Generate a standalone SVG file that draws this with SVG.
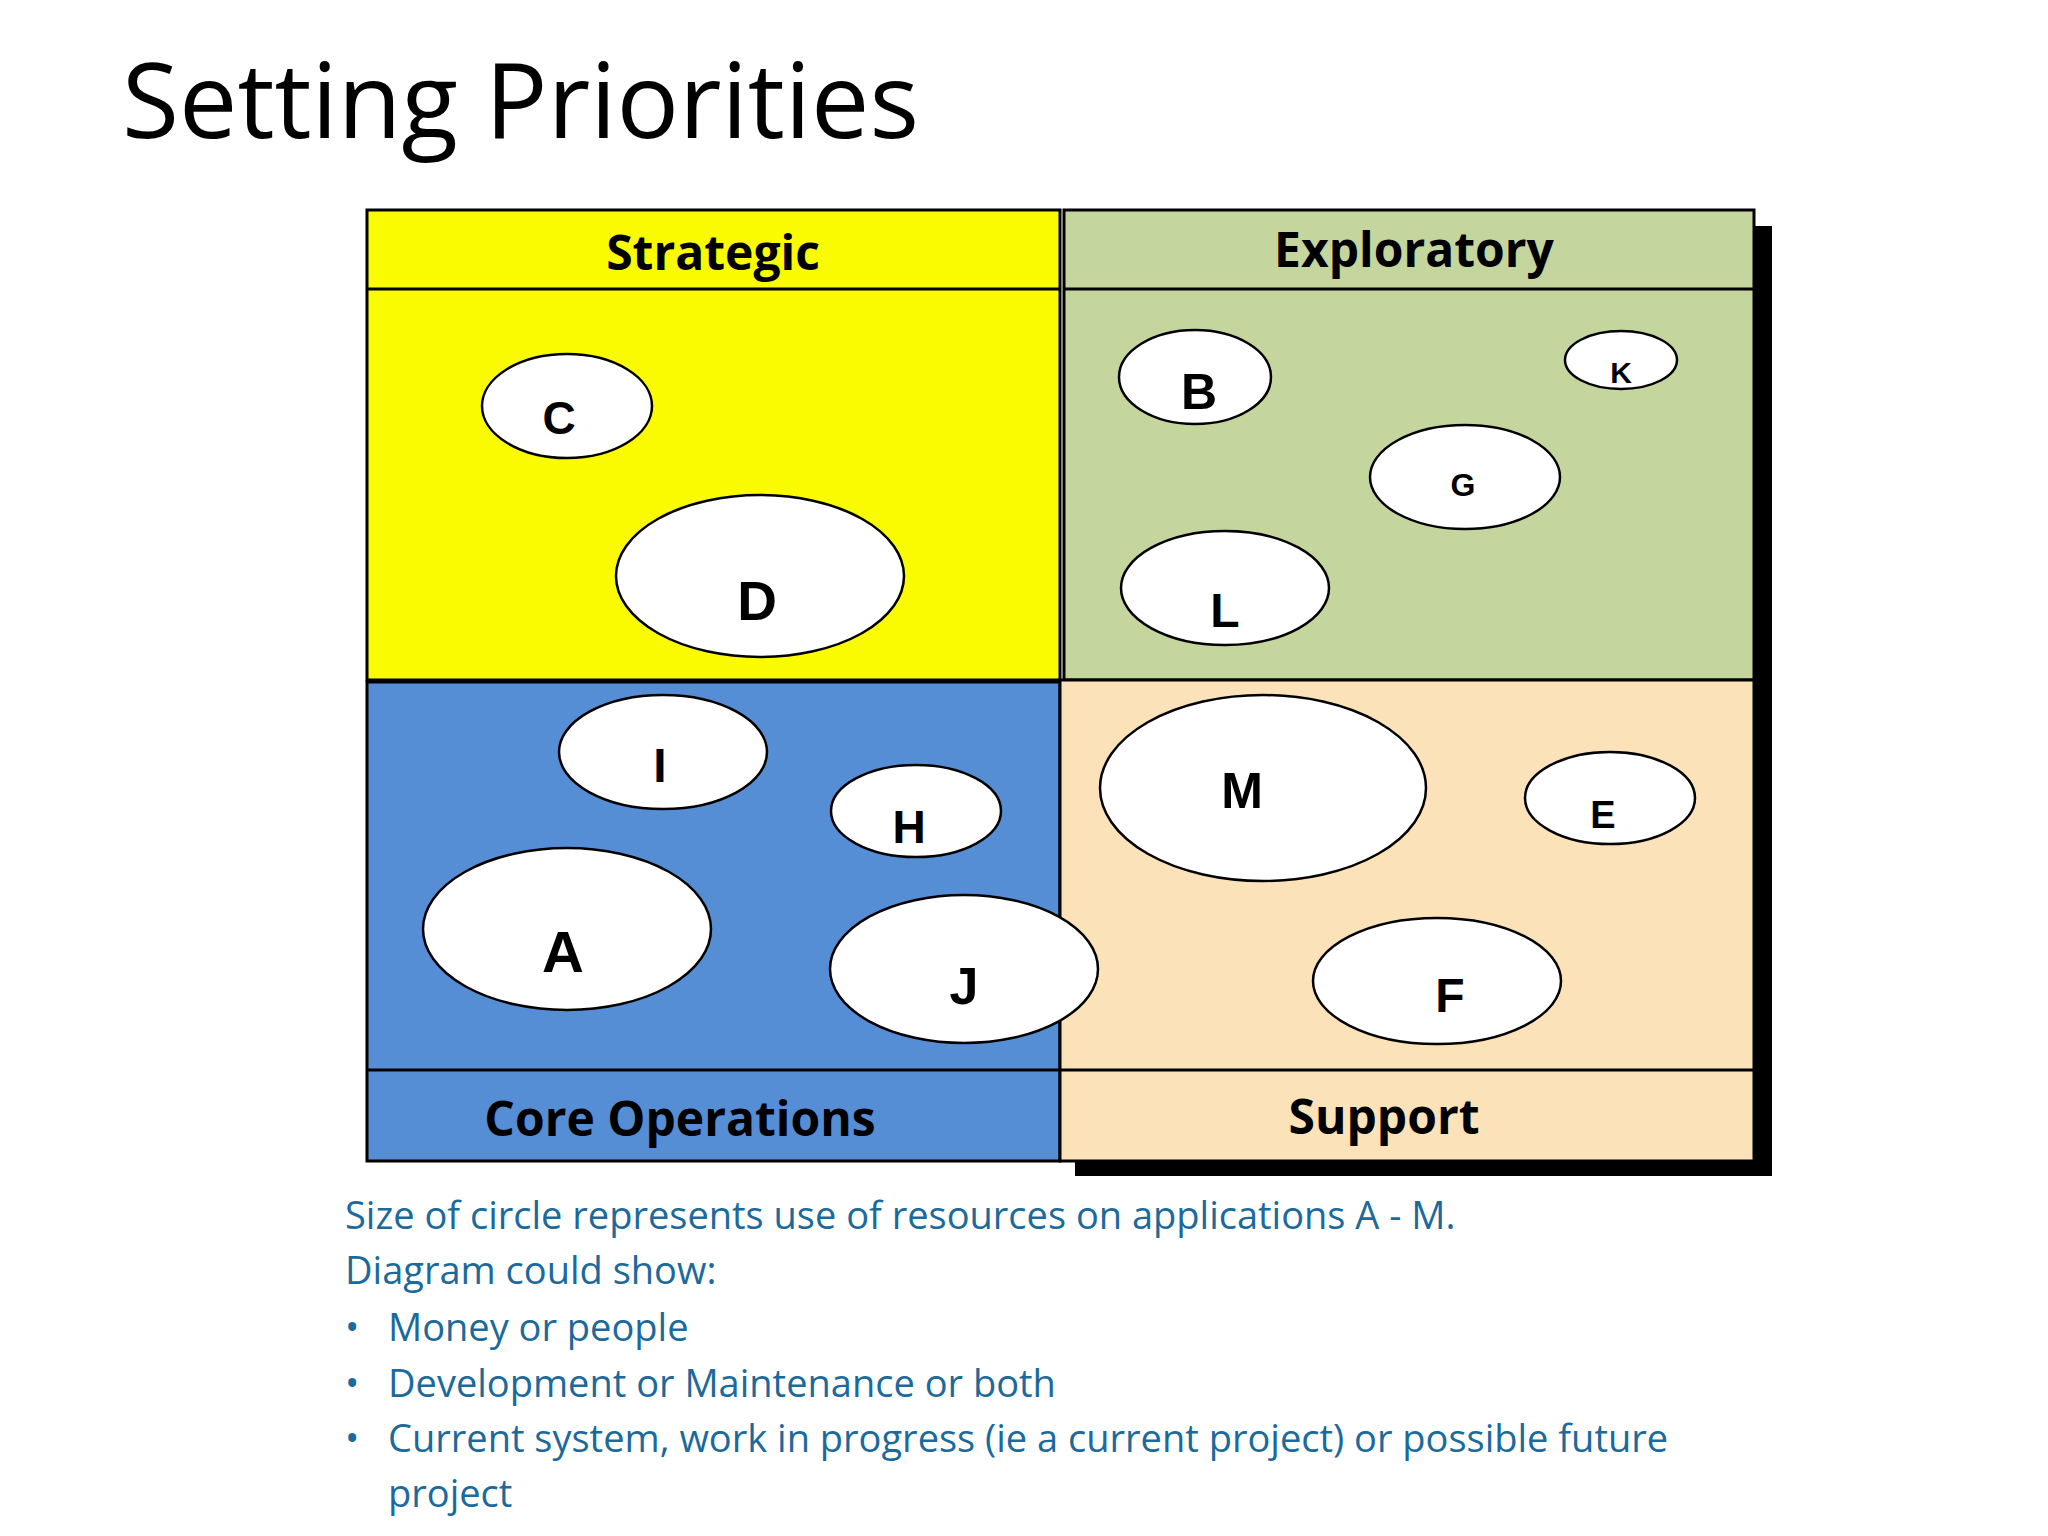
<svg xmlns="http://www.w3.org/2000/svg" width="2048" height="1536" viewBox="0 0 2048 1536">
<style>
.q{stroke:#000;stroke-width:3}
.e{fill:#fff;stroke:#000;stroke-width:2.5}
.l{font-family:"Liberation Sans",Arial,sans-serif;font-weight:bold;text-anchor:middle;dominant-baseline:central;fill:#000}
.h{font-family:"Open Sans","Noto Sans",sans-serif;font-weight:bold;font-size:48px;text-anchor:middle;dominant-baseline:central;fill:#000}
.t{font-family:"Open Sans","Noto Sans",sans-serif;font-size:38px;fill:#1B6A9B}
</style>
<rect width="2048" height="1536" fill="#fff"/>
<text x="122" y="138" font-family="Open Sans, Noto Sans, sans-serif" font-size="104" fill="#000">Setting Priorities</text>
<g id="shadow"><rect x="1754" y="226" width="18" height="950" fill="#000"/><rect x="1075" y="1161" width="697" height="15" fill="#000"/></g>
<g id="strategic"><rect class="q" x="367" y="210" width="693" height="470" fill="#FAFA00"/><line class="q" x1="367" y1="289" x2="1060" y2="289"/><text class="h" x="713" y="251">Strategic</text></g>
<g id="exploratory"><rect class="q" x="1064" y="210" width="690" height="470" fill="#C4D69E"/><line class="q" x1="1064" y1="289" x2="1754" y2="289"/><text class="h" x="1414" y="248">Exploratory</text></g>
<g id="core"><rect class="q" x="367" y="682" width="693" height="479" fill="#558ED5"/><line class="q" x1="367" y1="1070" x2="1060" y2="1070"/><text class="h" x="680" y="1117">Core Operations</text></g>
<g id="support"><rect class="q" x="1060" y="680" width="694" height="481" fill="#FCE2B8"/><line class="q" x1="1060" y1="1070" x2="1754" y2="1070"/><text class="h" x="1384" y="1115">Support</text></g>
<g id="C"><ellipse class="e" cx="567" cy="406" rx="85" ry="52"/><text class="l" x="559" y="418" font-size="46">C</text></g>
<g id="D"><ellipse class="e" cx="760" cy="576" rx="144" ry="81"/><text class="l" x="757" y="601" font-size="55">D</text></g>
<g id="B"><ellipse class="e" cx="1195" cy="377" rx="76" ry="47"/><text class="l" x="1199" y="392" font-size="50">B</text></g>
<g id="K"><ellipse class="e" cx="1621" cy="360" rx="56" ry="29"/><text class="l" x="1621" y="372" font-size="30">K</text></g>
<g id="G"><ellipse class="e" cx="1465" cy="477" rx="95" ry="52"/><text class="l" x="1463" y="485" font-size="32">G</text></g>
<g id="L"><ellipse class="e" cx="1225" cy="588" rx="104" ry="57"/><text class="l" x="1225" y="610" font-size="48">L</text></g>
<g id="I"><ellipse class="e" cx="663" cy="752" rx="104" ry="57"/><text class="l" x="660" y="765" font-size="48">I</text></g>
<g id="H"><ellipse class="e" cx="916" cy="811" rx="85" ry="46"/><text class="l" x="909" y="827" font-size="46">H</text></g>
<g id="A"><ellipse class="e" cx="567" cy="929" rx="144" ry="81"/><text class="l" x="563" y="951" font-size="58">A</text></g>
<g id="J"><ellipse class="e" cx="964" cy="969" rx="134" ry="74"/><text class="l" x="964" y="986" font-size="52">J</text></g>
<g id="M"><ellipse class="e" cx="1263" cy="788" rx="163" ry="93"/><text class="l" x="1242" y="791" font-size="50">M</text></g>
<g id="E"><ellipse class="e" cx="1610" cy="798" rx="85" ry="46"/><text class="l" x="1603" y="815" font-size="38">E</text></g>
<g id="F"><ellipse class="e" cx="1437" cy="981" rx="124" ry="63"/><text class="l" x="1450" y="995" font-size="48">F</text></g>
<g id="notes">
<text class="t" x="345" y="1229">Size of circle represents use of resources on applications A - M.</text>
<text class="t" x="345" y="1284">Diagram could show:</text>
<text class="t" x="345" y="1341">•</text><text class="t" x="388" y="1341">Money or people</text>
<text class="t" x="345" y="1397">•</text><text class="t" x="388" y="1397">Development or Maintenance or both</text>
<text class="t" x="345" y="1452">•</text><text class="t" x="388" y="1452">Current system, work in progress (ie a current project) or possible future</text>
<text class="t" x="388" y="1507">project</text>
</g>
</svg>
